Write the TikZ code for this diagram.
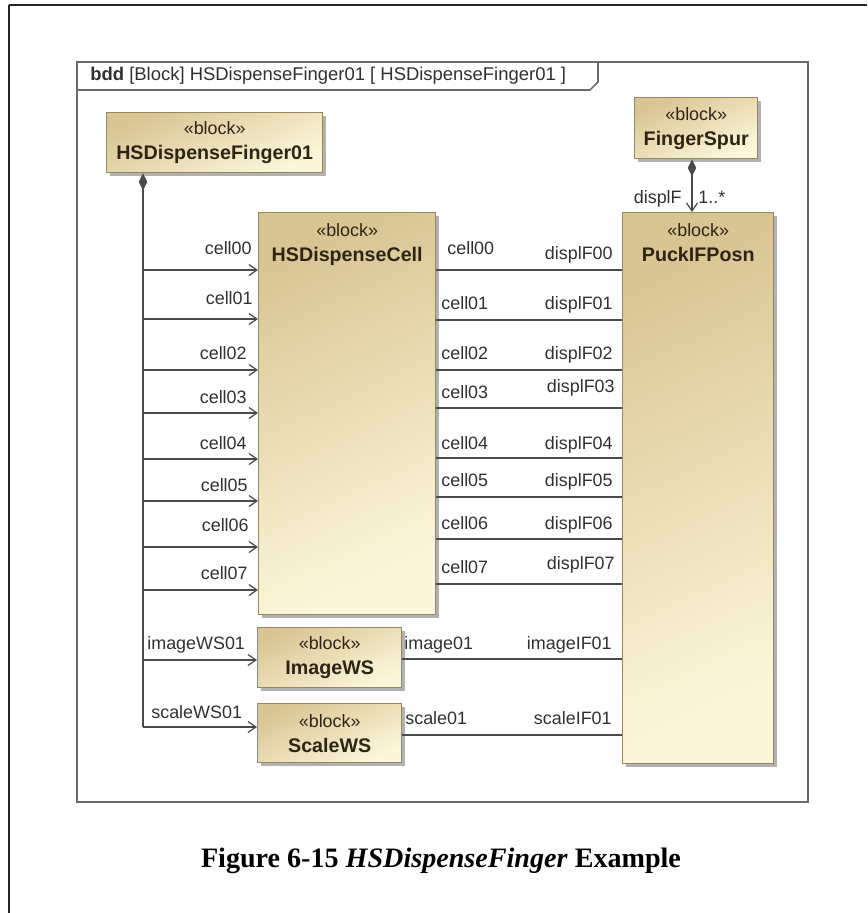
\documentclass[tikz,border=0pt]{standalone}
\usepackage{fontspec}
\setmainfont{Liberation Sans}
\newfontfamily\capfont{Liberation Serif}
\usetikzlibrary{arrows.meta, shadows}
\definecolor{bddtan}{HTML}{D9C594}
\definecolor{bddcream}{HTML}{FCF7DA}
\definecolor{bddedge}{HTML}{978760}
\definecolor{bddtext}{HTML}{2E2414}
\definecolor{bddline}{HTML}{4A4A4A}
\definecolor{bddframe}{HTML}{6A6A6A}
\definecolor{bddlabel}{HTML}{303030}
\newcommand{\nm}[1]{{\bfseries\fontsize{11.2}{14.2}\selectfont #1}}
\tikzset{
  blk/.style={rectangle, draw=bddedge, line width=0.8pt, top color=bddtan, bottom color=bddcream,
    shading angle=25, general shadow={fill=black!30, shadow xshift=1.8pt, shadow yshift=-1.8pt},
    anchor=north west, inner sep=0pt, align=center, text=bddtext, font=\fontsize{10.2}{14.2}\selectfont},
  sz/.style 2 args={minimum width=#1*0.02cm, minimum height=#2*0.02cm},
  tall/.style={anchor=north, yshift=-0.23cm, inner sep=0pt, align=center, text=bddtext,
    font=\fontsize{10.2}{14.2}\selectfont},
  lbl/.style={inner sep=0pt, text=bddlabel, font=\fontsize{10.2}{12}\selectfont},
  hdr/.style={anchor=west, inner sep=0pt, text=bddlabel, font=\fontsize{10.5}{12}\selectfont},
  captxt/.style={inner sep=0pt, font=\capfont\bfseries\fontsize{16}{19}\selectfont},
  part/.style={-{Straight Barb[length=1.6mm, width=2.2mm]}, line width=0.7pt, bddline},
  link/.style={line width=0.7pt, bddline},
  comp/.style={{Diamond[length=3.4mm, width=1.7mm]}-, line width=0.7pt, bddline},
  spurl/.style={{Diamond[length=3.4mm, width=1.7mm]}-{Straight Barb[length=1.6mm, width=2.2mm]},
    line width=0.7pt, bddline},
  frm/.style={line width=0.9pt, bddframe},
  pgline/.style={line width=0.9pt, black!85},
}
\begin{document}
\begin{tikzpicture}[x=0.02cm, y=-0.02cm]
  \useasboundingbox (0,0) rectangle (867,913);
  \draw[pgline] (9,5) -- (867,5);
  \draw[pgline] (9,5) -- (9,913);
  \draw[frm] (77,62) rectangle (808,802);
  \draw[frm] (77,90) -- (590,90) -- (598,82) -- (598,62);
  \node[hdr] (title) at (90,76) {\textbf{bdd} [Block] HSDispenseFinger01 [ HSDispenseFinger01 ]};

  \node[blk, sz={216}{60}] (fingr) at (106,112) {«block»\\\nm{HSDispenseFinger01}};
  \node[blk, sz={123}{61}] (spur) at (634,97) {«block»\\\nm{FingerSpur}};
  \node[blk, sz={177}{402}, label={[tall]north:{«block»\\\nm{HSDispenseCell}}}] (cell) at (258,212) {};
  \node[blk, sz={151}{551}, label={[tall]north:{«block»\\\nm{PuckIFPosn}}}] (puck) at (622,212) {};
  \node[blk, sz={144}{60}] (img) at (257,627) {«block»\\\nm{ImageWS}};
  \node[blk, sz={144}{59}] (scl) at (257,703) {«block»\\\nm{ScaleWS}};

  \coordinate (trunk) at (143,727);
  \draw[comp] (fingr.south -| trunk) -- (trunk);
  \foreach \y/\ly/\lx/\txt in {270/248/252/cell00, 319/298/253/cell01, 370/353/247/cell02,
      413/397/247/cell03, 459/443/247/cell04, 501/485/248/cell05, 547/525/249/cell06, 590/573/248/cell07}{
    \draw[part] (trunk |- 0,\y) -- (cell.west |- 0,\y);
    \node[lbl, anchor=base east] (in\txt) at (\lx,\ly+6.5) {\txt};
  }
  \draw[part] (trunk |- 0,660) -- (img.west |- 0,660);
  \node[lbl, anchor=base west] (inimg) at (147,649.5) {imageWS01};
  \draw[part] (trunk) -- (scl.west |- trunk);
  \node[lbl, anchor=base west] (inscl) at (151,718.5) {scaleWS01};

  \foreach \y/\cy/\cx/\dy/\dx/\n in {270/248/447/253/613/00, 320/303/441/303/613/01, 370/353/441/353/613/02,
      408/392/441/386/615/03, 458/443/441/443/613/04, 497/480/441/480/613/05, 539/523/441/523/613/06,
      584/567/441/563/615/07}{
    \draw[link] (cell.east |- 0,\y) -- (puck.west |- 0,\y);
    \node[lbl, anchor=base west] (oc\n) at (\cx,\cy+6.5) {cell\n};
    \node[lbl, anchor=base east] (od\n) at (\dx,\dy+6.5) {displF\n};
  }
  \draw[link] (img.east |- 0,659) -- (puck.west |- 0,659);
  \node[lbl, anchor=base west] (outimg) at (404,649.5) {image01};
  \node[lbl, anchor=base east] (ifimg) at (612,649.5) {imageIF01};
  \draw[link] (scl.east |- 0,735) -- (puck.west |- 0,735);
  \node[lbl, anchor=base west] (outscl) at (405,724.5) {scale01};
  \node[lbl, anchor=base east] (ifscl) at (612,724.5) {scaleIF01};

  \coordinate (sp) at (692,0);
  \draw[spurl] (spur.south -| sp) -- (puck.north -| sp);
  \node[lbl, anchor=base east] (role) at (682,203.5) {displF};
  \node[lbl, anchor=base west] (mult) at (698,203.5) {1..*};

  \node[captxt] (caption) at (441,861) {Figure 6-15 \textit{HSDispenseFinger} Example};
\end{tikzpicture}
\end{document}
